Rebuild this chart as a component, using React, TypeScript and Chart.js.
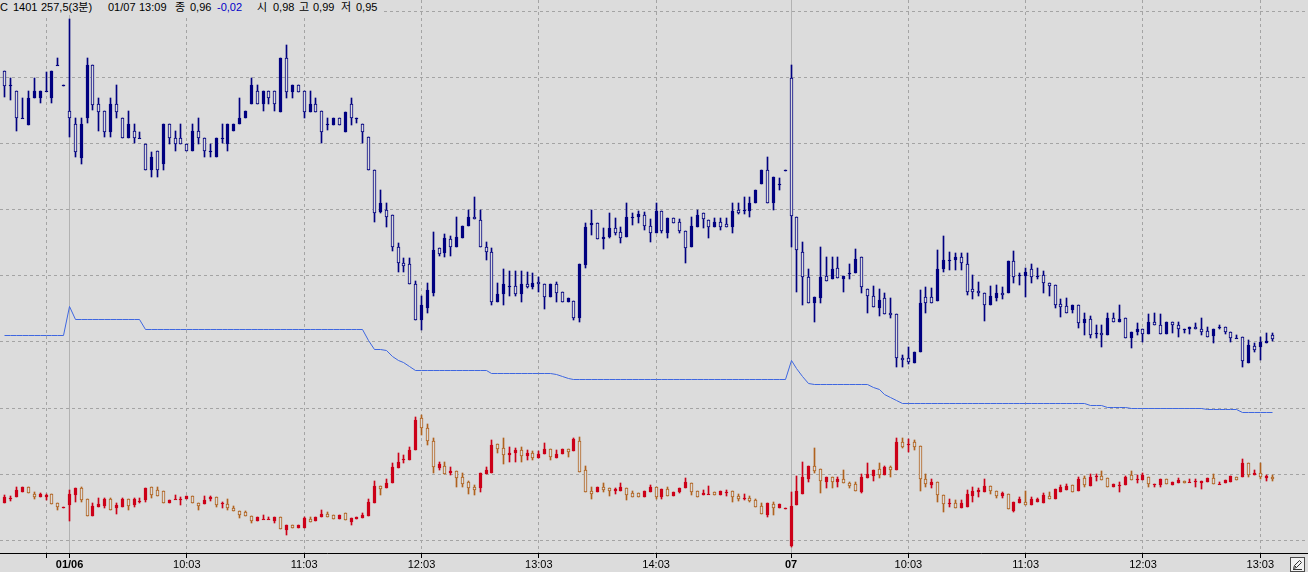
import React, { useEffect, useRef } from 'react';
import { Chart, registerables } from 'chart.js';

Chart.register(...registerables);

// ---------- axis ticks ----------
const tickIdx = [7, 11, 31, 51, 71, 91, 111, 134, 154, 174, 194, 214];
const tickLabels = ['', '01/06', '10:03', '11:03', '12:03', '13:03', '14:03', '07', '10:03', '11:03', '12:03', '13:03'];
const dayIdx = [11, 134];

// ---------- top candles (option price) ----------
const topOpen = [
  2.300, 2.228, 2.200, 2.065, 2.030, 2.163, 2.163, 2.200, 2.163, 2.330,
  2.228, 2.100, 2.033, 1.867, 2.063, 2.330, 2.133, 2.100, 1.997, 2.133,
  2.063, 1.967, 2.000, 1.967, 1.933, 1.803, 1.900, 1.833, 2.033, 1.967,
  1.967, 1.933, 1.900, 2.000, 1.967, 1.900, 1.870, 1.967, 1.933, 2.000,
  2.033, 2.063, 2.133, 2.200, 2.133, 2.200, 2.200, 2.097, 2.363, 2.197,
  2.230, 2.200, 2.097, 2.133, 2.100, 2.035, 2.030, 2.063, 1.997, 2.133,
  2.063, 2.033, 1.972, 1.803, 1.597, 1.605, 1.580, 1.418, 1.338, 1.335,
  1.235, 1.055, 1.113, 1.188, 1.413, 1.388, 1.460, 1.422, 1.463, 1.525,
  1.568, 1.555, 1.418, 1.393, 1.147, 1.185, 1.227, 1.227, 1.185, 1.235,
  1.218, 1.247, 1.235, 1.172, 1.235, 1.197, 1.147, 1.152, 1.063, 1.330,
  1.530, 1.542, 1.458, 1.472, 1.513, 1.497, 1.472, 1.568, 1.572, 1.580,
  1.525, 1.492, 1.600, 1.492, 1.563, 1.543, 1.502, 1.418, 1.522, 1.588,
  1.555, 1.518, 1.547, 1.535, 1.522, 1.605, 1.605, 1.602, 1.638, 1.733,
  1.805, 1.638, 1.735, 1.803, 2.263, 1.568, 1.393, 1.272, 1.142, 1.163,
  1.277, 1.258, 1.313, 1.258, 1.288, 1.288, 1.368, 1.208, 1.175, 1.113,
  1.163, 1.088, 1.085, 0.865, 0.864, 0.842, 0.897, 1.168, 1.168, 1.152,
  1.308, 1.355, 1.355, 1.368, 1.335, 1.208, 1.202, 1.192, 1.130, 1.163,
  1.192, 1.188, 1.352, 1.280, 1.275, 1.308, 1.275, 1.280, 1.238, 1.230,
  1.135, 1.125, 1.105, 1.132, 1.038, 1.058, 0.988, 0.992, 0.980, 1.063,
  1.047, 1.063, 0.963, 0.997, 1.008, 0.985, 1.047, 1.030, 0.985, 1.047,
  1.030, 1.008, 1.008, 1.018, 1.008, 1.002, 0.975, 1.022, 1.018, 0.997,
  0.963, 0.968, 0.842, 0.925, 0.918, 0.940, 0.980,
];
const topHigh = [
  2.300, 2.263, 2.200, 2.165, 2.200, 2.263, 2.200, 2.297, 2.300, 2.363,
  2.228, 2.560, 2.063, 2.063, 2.363, 2.330, 2.163, 2.100, 2.163, 2.230,
  2.063, 2.100, 2.033, 1.997, 1.933, 1.897, 1.900, 2.033, 2.033, 2.000,
  2.033, 1.933, 2.033, 2.063, 1.967, 1.933, 1.967, 2.033, 2.033, 2.033,
  2.163, 2.100, 2.263, 2.230, 2.200, 2.200, 2.200, 2.363, 2.430, 2.230,
  2.230, 2.200, 2.200, 2.167, 2.100, 2.063, 2.063, 2.063, 2.097, 2.163,
  2.063, 2.033, 1.972, 1.803, 1.705, 1.638, 1.580, 1.438, 1.363, 1.363,
  1.252, 1.175, 1.238, 1.497, 1.413, 1.485, 1.477, 1.572, 1.525, 1.605,
  1.672, 1.605, 1.443, 1.413, 1.238, 1.308, 1.302, 1.302, 1.302, 1.297,
  1.288, 1.272, 1.235, 1.235, 1.247, 1.197, 1.163, 1.152, 1.335, 1.538,
  1.605, 1.542, 1.513, 1.588, 1.563, 1.522, 1.642, 1.588, 1.602, 1.597,
  1.558, 1.642, 1.600, 1.563, 1.563, 1.558, 1.502, 1.568, 1.605, 1.588,
  1.555, 1.563, 1.563, 1.563, 1.642, 1.642, 1.672, 1.672, 1.705, 1.805,
  1.872, 1.768, 1.763, 1.803, 2.330, 1.568, 1.443, 1.308, 1.168, 1.418,
  1.368, 1.372, 1.368, 1.277, 1.335, 1.408, 1.368, 1.208, 1.225, 1.208,
  1.188, 1.163, 1.085, 0.880, 0.919, 0.897, 1.205, 1.218, 1.213, 1.405,
  1.475, 1.397, 1.388, 1.388, 1.388, 1.280, 1.247, 1.192, 1.225, 1.230,
  1.222, 1.352, 1.402, 1.288, 1.313, 1.335, 1.313, 1.302, 1.238, 1.230,
  1.158, 1.163, 1.132, 1.132, 1.088, 1.075, 1.030, 1.030, 1.088, 1.092,
  1.130, 1.063, 0.997, 1.038, 1.008, 1.085, 1.088, 1.085, 1.047, 1.047,
  1.047, 1.008, 1.018, 1.038, 1.063, 1.022, 1.008, 1.030, 1.018, 0.997,
  0.980, 0.968, 0.955, 0.942, 0.968, 0.990, 0.990,
];
const topLow = [
  2.168, 2.155, 2.002, 2.065, 2.030, 2.163, 2.138, 2.200, 2.138, 2.330,
  2.228, 1.972, 1.872, 1.835, 2.038, 2.105, 2.002, 1.972, 1.972, 2.063,
  1.967, 1.967, 1.938, 1.967, 1.803, 1.772, 1.772, 1.803, 1.933, 1.900,
  1.933, 1.900, 1.900, 1.933, 1.870, 1.870, 1.870, 1.938, 1.900, 2.000,
  2.033, 2.063, 2.133, 2.133, 2.100, 2.133, 2.100, 2.097, 2.163, 2.163,
  2.197, 2.067, 2.097, 2.097, 1.938, 2.005, 2.030, 2.030, 1.997, 2.030,
  2.038, 1.938, 1.803, 1.547, 1.588, 1.522, 1.402, 1.293, 1.293, 1.235,
  1.055, 1.005, 1.088, 1.175, 1.375, 1.372, 1.377, 1.422, 1.463, 1.525,
  1.558, 1.418, 1.355, 1.130, 1.147, 1.130, 1.175, 1.175, 1.147, 1.213,
  1.208, 1.197, 1.108, 1.172, 1.147, 1.147, 1.147, 1.055, 1.047, 1.313,
  1.480, 1.458, 1.408, 1.463, 1.480, 1.438, 1.472, 1.530, 1.538, 1.505,
  1.447, 1.492, 1.488, 1.463, 1.538, 1.488, 1.342, 1.418, 1.522, 1.513,
  1.463, 1.518, 1.505, 1.518, 1.488, 1.585, 1.585, 1.572, 1.638, 1.733,
  1.638, 1.605, 1.705, 1.803, 1.422, 1.197, 1.130, 1.142, 1.047, 1.138,
  1.252, 1.258, 1.263, 1.197, 1.258, 1.288, 1.192, 1.088, 1.122, 1.075,
  1.085, 1.063, 0.822, 0.822, 0.835, 0.842, 0.895, 1.092, 1.142, 1.152,
  1.297, 1.305, 1.305, 1.305, 1.180, 1.158, 1.175, 1.052, 1.130, 1.152,
  1.158, 1.188, 1.238, 1.230, 1.172, 1.242, 1.258, 1.188, 1.175, 1.113,
  1.068, 1.092, 1.088, 1.013, 0.980, 0.963, 0.963, 0.922, 0.980, 1.047,
  1.047, 0.963, 0.913, 0.980, 0.947, 0.985, 1.030, 0.985, 0.985, 0.992,
  0.968, 0.988, 0.985, 1.008, 0.980, 0.968, 0.942, 1.008, 0.985, 0.947,
  0.963, 0.822, 0.842, 0.897, 0.855, 0.940, 0.950,
];
const topClose = [
  2.225, 2.228, 2.063, 2.065, 2.167, 2.200, 2.200, 2.200, 2.300, 2.330,
  2.228, 2.063, 1.897, 2.033, 2.330, 2.130, 2.097, 1.997, 2.133, 2.097,
  1.967, 2.033, 1.967, 1.967, 1.803, 1.870, 1.803, 2.033, 1.967, 1.933,
  1.933, 1.900, 2.000, 1.967, 1.900, 1.900, 1.967, 1.967, 2.033, 2.033,
  2.063, 2.100, 2.230, 2.133, 2.200, 2.163, 2.133, 2.363, 2.197, 2.230,
  2.197, 2.097, 2.133, 2.097, 1.997, 2.035, 2.063, 2.030, 2.097, 2.063,
  2.063, 1.997, 1.803, 1.588, 1.638, 1.568, 1.418, 1.338, 1.327, 1.235,
  1.055, 1.130, 1.205, 1.405, 1.385, 1.463, 1.422, 1.472, 1.525, 1.568,
  1.558, 1.418, 1.393, 1.147, 1.185, 1.235, 1.227, 1.185, 1.235, 1.222,
  1.238, 1.235, 1.172, 1.235, 1.188, 1.147, 1.163, 1.063, 1.335, 1.522,
  1.538, 1.458, 1.472, 1.513, 1.492, 1.463, 1.568, 1.568, 1.585, 1.525,
  1.492, 1.600, 1.502, 1.563, 1.538, 1.502, 1.413, 1.525, 1.580, 1.558,
  1.522, 1.547, 1.522, 1.518, 1.600, 1.592, 1.605, 1.638, 1.705, 1.805,
  1.638, 1.768, 1.735, 1.803, 1.577, 1.405, 1.268, 1.142, 1.168, 1.272,
  1.252, 1.310, 1.263, 1.277, 1.288, 1.360, 1.222, 1.175, 1.122, 1.155,
  1.085, 1.080, 0.864, 0.855, 0.847, 0.897, 1.142, 1.142, 1.142, 1.308,
  1.355, 1.355, 1.368, 1.338, 1.195, 1.197, 1.188, 1.130, 1.175, 1.192,
  1.180, 1.352, 1.272, 1.280, 1.297, 1.272, 1.275, 1.238, 1.225, 1.130,
  1.122, 1.092, 1.132, 1.038, 1.058, 0.980, 0.988, 0.980, 1.063, 1.047,
  1.058, 0.963, 0.997, 1.008, 0.985, 1.047, 1.030, 0.985, 1.047, 1.030,
  1.008, 1.008, 1.018, 1.008, 0.997, 0.968, 1.008, 1.022, 0.997, 0.963,
  0.963, 0.852, 0.930, 0.905, 0.947, 0.950, 0.960,
];

// ---------- middle line ----------
const lineVals = [
  21.8, 21.8, 21.8, 21.8, 21.8, 21.8, 21.8, 21.8, 21.8, 21.8,
  21.8, 24.7, 23.4, 23.4, 23.4, 23.4, 23.4, 23.4, 23.4, 23.4,
  23.4, 23.4, 23.4, 23.4, 22.4, 22.4, 22.4, 22.4, 22.4, 22.4,
  22.4, 22.4, 22.4, 22.4, 22.4, 22.4, 22.4, 22.4, 22.4, 22.4,
  22.4, 22.4, 22.4, 22.4, 22.4, 22.4, 22.4, 22.4, 22.4, 22.4,
  22.4, 22.4, 22.4, 22.4, 22.4, 22.4, 22.4, 22.4, 22.4, 22.4,
  22.4, 22.4, 21.3, 20.4, 20.4, 20.3, 19.7, 19.3, 19.1, 18.7,
  18.3, 18.3, 18.3, 18.3, 18.3, 18.3, 18.3, 18.3, 18.3, 18.3,
  18.3, 18.3, 18.3, 18.0, 18.0, 18.0, 18.0, 18.0, 18.0, 18.0,
  18.0, 18.0, 18.0, 18.0, 17.9, 17.7, 17.5, 17.4, 17.4, 17.4,
  17.4, 17.4, 17.4, 17.4, 17.4, 17.4, 17.4, 17.4, 17.4, 17.4,
  17.4, 17.4, 17.4, 17.4, 17.4, 17.4, 17.4, 17.4, 17.4, 17.4,
  17.4, 17.4, 17.4, 17.4, 17.4, 17.4, 17.4, 17.4, 17.4, 17.4,
  17.4, 17.4, 17.4, 17.4, 19.3, 18.5, 17.7, 17.0, 16.9, 16.9,
  16.9, 16.9, 16.9, 16.9, 16.9, 16.9, 16.9, 16.9, 16.6, 16.3,
  15.9, 15.6, 15.3, 15.0, 15.0, 15.0, 15.0, 15.0, 15.0, 15.0,
  15.0, 15.0, 15.0, 15.0, 15.0, 15.0, 15.0, 15.0, 15.0, 15.0,
  15.0, 15.0, 15.0, 15.0, 15.0, 15.0, 15.0, 15.0, 15.0, 15.0,
  15.0, 15.0, 15.0, 15.0, 15.0, 14.75, 14.75, 14.75, 14.6, 14.6,
  14.6, 14.6, 14.5, 14.5, 14.5, 14.5, 14.5, 14.5, 14.5, 14.5,
  14.5, 14.5, 14.5, 14.5, 14.5, 14.4, 14.4, 14.4, 14.4, 14.4,
  14.4, 14.05, 14.05, 14.05, 14.05, 14.05, 14.05,
];

// ---------- bottom candles ----------
const botOpen = [
  0.497, 0.537, 0.563, 0.613, 0.657, 0.590, 0.563, 0.563, 0.587, 0.497,
  0.457, 0.480, 0.580, 0.653, 0.540, 0.373, 0.457, 0.470, 0.537, 0.447,
  0.463, 0.537, 0.480, 0.523, 0.530, 0.663, 0.630, 0.623, 0.497, 0.537,
  0.537, 0.537, 0.570, 0.503, 0.490, 0.537, 0.557, 0.497, 0.490, 0.447,
  0.423, 0.413, 0.370, 0.323, 0.340, 0.340, 0.323, 0.363, 0.230, 0.280,
  0.247, 0.253, 0.340, 0.323, 0.357, 0.387, 0.380, 0.337, 0.397, 0.313,
  0.337, 0.347, 0.370, 0.503, 0.670, 0.647, 0.697, 0.847, 0.937, 0.930,
  1.030, 1.347, 1.247, 1.125, 0.853, 0.873, 0.797, 0.820, 0.763, 0.707,
  0.663, 0.653, 0.787, 0.797, 1.087, 1.053, 0.980, 0.997, 1.030, 0.973,
  0.997, 0.947, 0.987, 1.040, 0.947, 0.987, 1.040, 1.020, 1.120, 0.830,
  0.620, 0.607, 0.663, 0.653, 0.620, 0.620, 0.653, 0.597, 0.597, 0.563,
  0.607, 0.663, 0.563, 0.640, 0.573, 0.607, 0.647, 0.697, 0.620, 0.580,
  0.587, 0.607, 0.580, 0.607, 0.620, 0.573, 0.553, 0.553, 0.530, 0.473,
  0.380, 0.487, 0.453, 0.453, 0.070, 0.480, 0.587, 0.740, 0.870, 0.840,
  0.713, 0.763, 0.707, 0.740, 0.697, 0.687, 0.607, 0.753, 0.773, 0.840,
  0.780, 0.863, 0.830, 1.107, 1.087, 1.113, 1.070, 0.740, 0.680, 0.707,
  0.580, 0.497, 0.497, 0.453, 0.463, 0.573, 0.607, 0.607, 0.673, 0.620,
  0.573, 0.590, 0.420, 0.503, 0.513, 0.480, 0.513, 0.503, 0.570, 0.537,
  0.613, 0.630, 0.680, 0.623, 0.747, 0.670, 0.770, 0.770, 0.747, 0.663,
  0.680, 0.680, 0.780, 0.737, 0.730, 0.757, 0.690, 0.680, 0.737, 0.680,
  0.697, 0.723, 0.713, 0.723, 0.697, 0.713, 0.747, 0.690, 0.697, 0.713,
  0.757, 0.757, 0.903, 0.780, 0.797, 0.747, 0.763,
];
const botHigh = [
  0.580, 0.570, 0.657, 0.657, 0.663, 0.613, 0.603, 0.590, 0.587, 0.497,
  0.457, 0.630, 0.653, 0.663, 0.540, 0.503, 0.547, 0.547, 0.547, 0.497,
  0.547, 0.537, 0.547, 0.547, 0.653, 0.663, 0.657, 0.623, 0.530, 0.580,
  0.557, 0.570, 0.570, 0.503, 0.570, 0.570, 0.557, 0.510, 0.537, 0.470,
  0.423, 0.423, 0.370, 0.357, 0.380, 0.357, 0.363, 0.363, 0.280, 0.280,
  0.280, 0.363, 0.357, 0.357, 0.430, 0.413, 0.380, 0.380, 0.397, 0.347,
  0.363, 0.403, 0.537, 0.723, 0.670, 0.737, 0.897, 0.997, 0.980, 1.063,
  1.363, 1.380, 1.290, 1.147, 0.913, 0.907, 0.863, 0.820, 0.797, 0.720,
  0.680, 0.797, 0.863, 1.130, 1.087, 1.147, 1.063, 1.047, 1.063, 1.030,
  1.020, 1.020, 1.097, 1.040, 1.030, 1.037, 1.040, 1.153, 1.163, 0.873,
  0.663, 0.663, 0.697, 0.653, 0.653, 0.697, 0.653, 0.620, 0.597, 0.620,
  0.680, 0.663, 0.640, 0.663, 0.607, 0.647, 0.747, 0.697, 0.620, 0.630,
  0.673, 0.607, 0.620, 0.630, 0.620, 0.587, 0.587, 0.573, 0.540, 0.497,
  0.497, 0.507, 0.487, 0.453, 0.607, 0.773, 0.907, 0.870, 1.047, 0.840,
  0.763, 0.763, 0.763, 0.830, 0.707, 0.707, 0.787, 0.897, 0.830, 0.897,
  0.873, 0.873, 1.153, 1.153, 1.140, 1.130, 1.070, 0.787, 0.740, 0.707,
  0.580, 0.540, 0.530, 0.530, 0.630, 0.663, 0.653, 0.740, 0.673, 0.620,
  0.607, 0.590, 0.510, 0.563, 0.623, 0.563, 0.547, 0.597, 0.613, 0.637,
  0.680, 0.690, 0.680, 0.757, 0.770, 0.790, 0.790, 0.823, 0.747, 0.690,
  0.713, 0.773, 0.823, 0.780, 0.797, 0.757, 0.690, 0.737, 0.737, 0.713,
  0.747, 0.723, 0.737, 0.737, 0.723, 0.747, 0.790, 0.710, 0.730, 0.770,
  0.757, 0.937, 0.903, 0.830, 0.897, 0.780, 0.780,
];
const botLow = [
  0.497, 0.523, 0.563, 0.613, 0.597, 0.537, 0.563, 0.530, 0.487, 0.430,
  0.457, 0.323, 0.513, 0.513, 0.373, 0.373, 0.457, 0.447, 0.430, 0.387,
  0.463, 0.430, 0.463, 0.497, 0.513, 0.547, 0.570, 0.497, 0.497, 0.537,
  0.480, 0.537, 0.497, 0.430, 0.490, 0.523, 0.457, 0.447, 0.430, 0.423,
  0.347, 0.370, 0.297, 0.323, 0.340, 0.340, 0.297, 0.237, 0.180, 0.247,
  0.247, 0.253, 0.313, 0.323, 0.357, 0.363, 0.337, 0.337, 0.330, 0.280,
  0.337, 0.347, 0.370, 0.503, 0.580, 0.647, 0.697, 0.847, 0.903, 0.930,
  1.030, 1.180, 1.080, 0.797, 0.830, 0.787, 0.780, 0.663, 0.663, 0.587,
  0.580, 0.613, 0.787, 0.797, 0.997, 0.887, 0.913, 0.913, 0.913, 0.930,
  0.930, 0.947, 0.987, 0.930, 0.947, 0.987, 0.963, 1.020, 0.813, 0.607,
  0.540, 0.607, 0.607, 0.573, 0.587, 0.620, 0.530, 0.563, 0.563, 0.563,
  0.607, 0.540, 0.540, 0.573, 0.573, 0.597, 0.647, 0.580, 0.563, 0.580,
  0.587, 0.580, 0.580, 0.573, 0.513, 0.520, 0.530, 0.507, 0.463, 0.387,
  0.363, 0.380, 0.453, 0.453, 0.060, 0.480, 0.587, 0.707, 0.797, 0.597,
  0.653, 0.647, 0.663, 0.697, 0.653, 0.620, 0.597, 0.753, 0.720, 0.753,
  0.780, 0.763, 0.830, 1.053, 1.007, 1.030, 0.620, 0.663, 0.653, 0.513,
  0.413, 0.463, 0.453, 0.453, 0.463, 0.513, 0.563, 0.607, 0.587, 0.547,
  0.553, 0.440, 0.413, 0.503, 0.480, 0.480, 0.513, 0.503, 0.537, 0.537,
  0.613, 0.630, 0.613, 0.623, 0.657, 0.670, 0.723, 0.730, 0.663, 0.663,
  0.613, 0.680, 0.730, 0.703, 0.730, 0.663, 0.657, 0.657, 0.690, 0.680,
  0.697, 0.697, 0.713, 0.663, 0.637, 0.713, 0.690, 0.690, 0.697, 0.713,
  0.730, 0.757, 0.757, 0.780, 0.737, 0.723, 0.723,
];
const botClose = [
  0.557, 0.553, 0.630, 0.657, 0.597, 0.563, 0.587, 0.580, 0.487, 0.457,
  0.457, 0.587, 0.653, 0.530, 0.373, 0.470, 0.490, 0.537, 0.430, 0.480,
  0.537, 0.470, 0.537, 0.523, 0.653, 0.580, 0.570, 0.497, 0.530, 0.537,
  0.537, 0.570, 0.497, 0.470, 0.530, 0.557, 0.480, 0.497, 0.447, 0.423,
  0.380, 0.370, 0.323, 0.357, 0.340, 0.340, 0.363, 0.237, 0.280, 0.247,
  0.280, 0.347, 0.313, 0.357, 0.387, 0.363, 0.337, 0.380, 0.330, 0.347,
  0.363, 0.380, 0.513, 0.670, 0.637, 0.703, 0.863, 0.913, 0.937, 1.030,
  1.330, 1.247, 1.123, 0.863, 0.887, 0.787, 0.820, 0.753, 0.687, 0.653,
  0.630, 0.797, 0.830, 1.080, 1.040, 0.980, 0.997, 1.030, 0.973, 0.997,
  0.953, 0.987, 1.040, 0.963, 0.987, 1.037, 1.013, 1.140, 0.813, 0.607,
  0.587, 0.663, 0.630, 0.620, 0.640, 0.663, 0.580, 0.563, 0.563, 0.620,
  0.663, 0.563, 0.640, 0.573, 0.607, 0.647, 0.707, 0.607, 0.563, 0.597,
  0.587, 0.580, 0.620, 0.607, 0.563, 0.540, 0.553, 0.520, 0.463, 0.387,
  0.497, 0.453, 0.487, 0.453, 0.473, 0.620, 0.763, 0.870, 0.820, 0.720,
  0.763, 0.707, 0.740, 0.697, 0.673, 0.620, 0.763, 0.787, 0.830, 0.780,
  0.857, 0.830, 1.113, 1.063, 1.087, 1.063, 0.740, 0.687, 0.713, 0.580,
  0.487, 0.497, 0.453, 0.497, 0.587, 0.620, 0.630, 0.673, 0.620, 0.573,
  0.597, 0.440, 0.510, 0.537, 0.480, 0.537, 0.537, 0.580, 0.537, 0.637,
  0.657, 0.670, 0.613, 0.737, 0.680, 0.757, 0.770, 0.730, 0.663, 0.690,
  0.680, 0.763, 0.730, 0.737, 0.780, 0.690, 0.690, 0.737, 0.690, 0.713,
  0.730, 0.697, 0.713, 0.723, 0.723, 0.747, 0.690, 0.690, 0.730, 0.770,
  0.730, 0.903, 0.780, 0.803, 0.757, 0.770, 0.737,
];

// ---------- styles ----------
const BG = '#dcdcdc';
const NAVY = '#000080';
const RED = '#cc0018';
const BROWN = '#b0621e';
const LINE_BLUE = '#3f67e0';
const GRID = '#a4a4a4';
const DAY_GRID = '#b2b2b2';
const FONT = '"Liberation Sans", Arial, sans-serif';

const snapPlugin = {
  id: 'snapPixels',
  beforeDatasetsDraw(chart: any) {
    chart.getSortedVisibleDatasetMetas().forEach((meta: any) => {
      if (meta.type === 'bar') {
        meta.data.forEach((el: any) => {
          el.x = Math.floor(el.x) + 0.5;
          const t = Math.round(Math.min(el.y, el.base));
          let b = Math.round(Math.max(el.y, el.base));
          if (b - t < 1) b = t + 1;
          el.y = t;
          el.base = b;
        });
      } else if (meta.type === 'line') {
        meta.data.forEach((el: any) => {
          el.x = Math.floor(el.x) + 0.5;
          el.y = Math.floor(el.y) + 0.5;
        });
      }
    });
  },
};

export default function App() {
  const ref = useRef<HTMLCanvasElement | null>(null);

  useEffect(() => {
    document.body.style.margin = '0';
    const canvas = ref.current;
    if (!canvas) return;
    Chart.defaults.font.family = FONT;
    Chart.defaults.font.size = 11;

    const idx = topOpen.map((_, i) => i);

    const topWick = idx.map((i) => ({ x: i, y: [topLow[i], topHigh[i]] }));
    const topBody = idx.map((i) => ({ x: i, y: [Math.min(topOpen[i], topClose[i]), Math.max(topOpen[i], topClose[i])] }));
    const topFill = idx.map((i) => (topClose[i] >= topOpen[i] ? NAVY : BG));

    const botWick = idx.map((i) => ({ x: i, y: [botLow[i], botHigh[i]] }));
    const botBody = idx.map((i) => ({ x: i, y: [Math.min(botOpen[i], botClose[i]), Math.max(botOpen[i], botClose[i])] }));
    const botUp = idx.map((i) => botClose[i] >= botOpen[i]);
    const botFill = botUp.map((u) => (u ? RED : BG));
    const botEdge = botUp.map((u) => (u ? RED : BROWN));

    const line = idx.map((i) => ({ x: i, y: lineVals[i] }));

    const chart = new Chart(canvas, {
      type: 'bar',
      data: {
        datasets: [
          { type: 'line', data: line, yAxisID: 'y1', borderColor: LINE_BLUE, borderWidth: 1, pointRadius: 0, tension: 0, order: 0 } as any,
          { type: 'bar', data: topBody, yAxisID: 'y', backgroundColor: topFill, borderColor: NAVY, borderWidth: 1, borderSkipped: false, barThickness: 3, grouped: false, order: 1 } as any,
          { type: 'bar', data: topWick, yAxisID: 'y', backgroundColor: NAVY, borderWidth: 0, barThickness: 1, grouped: false, order: 2 } as any,
          { type: 'bar', data: botBody, yAxisID: 'y2', backgroundColor: botFill, borderColor: botEdge, borderWidth: 1, borderSkipped: false, barThickness: 3, grouped: false, order: 1 } as any,
          { type: 'bar', data: botWick, yAxisID: 'y2', backgroundColor: botEdge, borderWidth: 0, barThickness: 1, grouped: false, order: 2 } as any,
        ],
      },
      options: {
        animation: false,
        responsive: false,
        maintainAspectRatio: false,
        events: [],
        layout: { padding: 0 },
        plugins: { legend: { display: false }, tooltip: { enabled: false }, title: { display: false } },
        scales: {
          x: {
            type: 'linear',
            position: 'bottom',
            min: -0.852,
            max: 222.13,
            offset: false,
            afterBuildTicks: (s: any) => {
              s.ticks = tickIdx.map((v) => ({ value: v }));
            },
            afterFit: (s: any) => {
              s.height = 19;
            },
            ticks: {
              autoSkip: false,
              maxRotation: 0,
              minRotation: 0,
              padding: 0,
              color: '#000',
              callback: (v: any) => {
                const k = tickIdx.indexOf(Number(v));
                return k >= 0 ? tickLabels[k] : '';
              },
              font: (ctx: any) => ({
                family: FONT,
                size: 11,
                weight: ctx.tick && dayIdx.includes(ctx.tick.value) ? 'bold' : 'normal',
              }),
            },
            grid: {
              offset: false,
              drawTicks: true,
              tickLength: 5,
              tickColor: '#000',
              lineWidth: 1,
              color: (ctx: any) => (ctx.tick && dayIdx.includes(ctx.tick.value) ? DAY_GRID : GRID),
            },
            border: {
              display: true,
              color: '#000',
              width: 1,
              dash: (ctx: any) => (ctx.tick && !dayIdx.includes(ctx.tick.value) ? [3, 3] : []),
            },
          } as any,
          y: {
            type: 'linear',
            position: 'left',
            min: -0.11,
            max: 2.655,
            afterBuildTicks: (s: any) => {
              const t = [];
              for (let k = 0; k <= 8; k++) t.push({ value: -0.045 + 0.33 * k });
              s.ticks = t;
            },
            afterFit: (s: any) => {
              s.width = 0;
            },
            ticks: { display: false },
            grid: { color: GRID, drawTicks: false, lineWidth: 1 },
            border: { display: false, dash: [3, 3] },
          } as any,
          y1: { type: 'linear', display: false, min: 0, max: 55.3 },
          y2: { type: 'linear', display: false, min: 0, max: 5.53 },
        },
      },
      plugins: [snapPlugin],
    });

    return () => chart.destroy();
  }, []);

  const titleFont = '11px "Liberation Sans", "Noto Sans CJK KR", sans-serif';
  const word = (left: number, text: string, color = '#000') => (
    <span style={{ position: 'absolute', left, top: 0, color }}>{text}</span>
  );

  return (
    <div style={{ position: 'absolute', left: 0, top: 0, width: 1308, height: 572, background: BG, overflow: 'hidden' }}>
      <canvas ref={ref} width={1308} height={572} style={{ display: 'block', width: 1308, height: 572 }} />
      <div style={{ position: 'absolute', left: 0, top: 0, height: 15, width: 381, background: BG, font: titleFont, lineHeight: '14px', whiteSpace: 'nowrap' }}>
        {word(0, 'C')}
        {word(13, '1401')}
        {word(41, '257,5(3분)')}
        {word(108, '01/07')}
        {word(139, '13:09')}
        {word(175, '종')}
        {word(190, '0,96')}
        {word(217, '-0,02', '#0000c8')}
        {word(257, '시')}
        {word(273, '0,98')}
        {word(299, '고')}
        {word(313, '0,99')}
        {word(341, '저')}
        {word(356, '0,95')}
      </div>
      <div style={{ position: 'absolute', left: 1290, top: 557, width: 15, height: 15, boxSizing: 'border-box', border: '1px solid #4a4a4a', background: '#f2f2f2' }}>
        <svg width="13" height="13" viewBox="0 0 13 13" style={{ display: 'block' }}>
          <path d="M2.5 10.5 L3.5 7.5 L8.5 2.5 L10.5 4.5 L5.5 9.5 Z M3.5 7.5 L5.5 9.5" fill="none" stroke="#333" strokeWidth="1" />
          <path d="M2 11.5 H11" stroke="#333" strokeWidth="1" />
        </svg>
      </div>
    </div>
  );
}
